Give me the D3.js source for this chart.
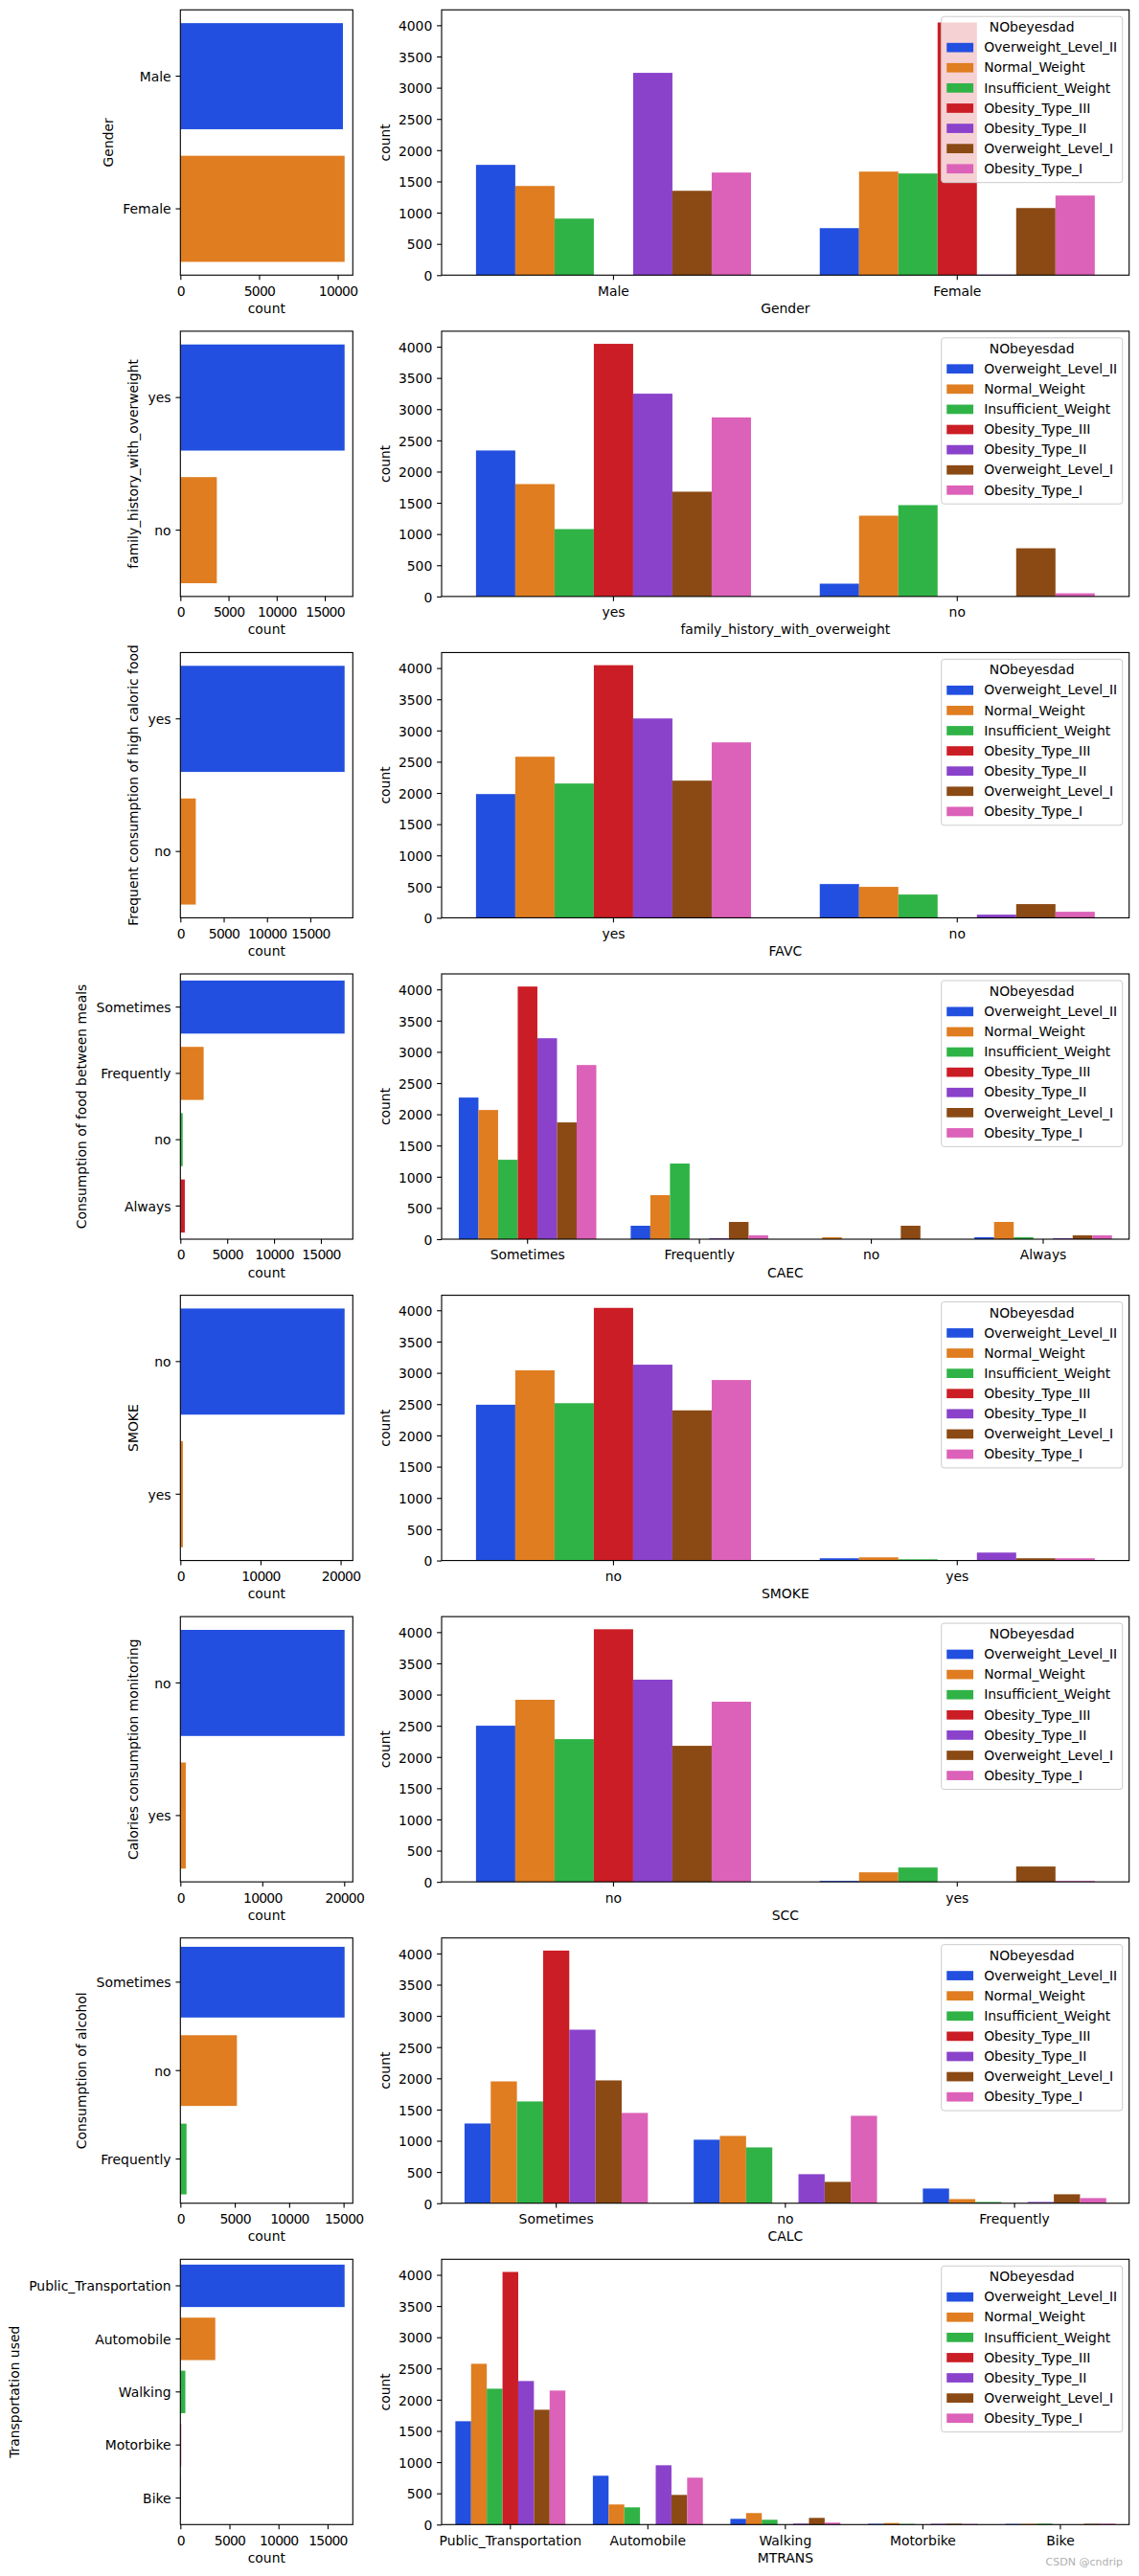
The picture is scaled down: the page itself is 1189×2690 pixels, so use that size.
<!DOCTYPE html>
<html>
<head>
<meta charset="utf-8">
<script src="https://cdn.jsdelivr.net/npm/d3@7"></script>
<style>
  body { margin: 0; background: #fff; }
  svg text { font-family: "DejaVu Sans", sans-serif; }
</style>
</head>
<body>
<svg id="chart" width="1189" height="2690"></svg>
<script>
// ---------------- DATA ----------------
const hueLevels = ["Overweight_Level_II", "Normal_Weight", "Insufficient_Weight",
  "Obesity_Type_III", "Obesity_Type_II", "Overweight_Level_I", "Obesity_Type_I"];
const palette = ["#224fdf", "#df7d20", "#30b346", "#cb1d25", "#8a42cb", "#8b4a14", "#dc61b8"];
const legendTitle = "NObeyesdad";
const countTicks = [0, 500, 1000, 1500, 2000, 2500, 3000, 3500, 4000];

const genderCats = ["Male", "Female"];
const genderCounts = [
  [1765, 1427, 905, 2, 3238, 1350, 1642],
  [752, 1657, 1627, 4044, 8, 1074, 1274]
];
const genderTicks = [0, 5000, 10000];

const familyCats = ["yes", "no"];
const familyCounts = [
  [2338, 1800, 1079, 4046, 3248, 1678, 2868],
  [205, 1294, 1463, 0, 0, 772, 51]
];
const familyTicks = [0, 5000, 10000, 15000];

const favcCats = ["yes", "no"];
const favcCounts = [
  [1982, 2580, 2151, 4046, 3193, 2197, 2810],
  [541, 496, 373, 0, 51, 220, 97]
];
const favcTicks = [0, 5000, 10000, 15000];

const caecCats = ["Sometimes", "Frequently", "no", "Always"];
const caecCounts = [
  [2268, 2069, 1272, 4046, 3218, 1870, 2789],
  [215, 705, 1211, 0, 15, 276, 61],
  [0, 31, 0, 0, 0, 215, 0],
  [31, 276, 31, 0, 15, 61, 61]
];
const caecTicks = [0, 5000, 10000, 15000];

const smokeCats = ["no", "yes"];
const smokeCounts = [
  [2490, 3040, 2515, 4038, 3130, 2400, 2885],
  [36, 51, 20, 8, 127, 36, 36]
];
const smokeTicks = [0, 10000, 20000];

const sccCats = ["no", "yes"];
const sccCounts = [
  [2501, 2916, 2286, 4046, 3238, 2179, 2885],
  [15, 153, 230, 0, 0, 246, 15]
];
const sccTicks = [0, 10000, 20000];

const calcCats = ["Sometimes", "no", "Frequently"];
const calcCounts = [
  [1277, 1951, 1630, 4046, 2779, 1967, 1446],
  [1017, 1078, 894, 0, 465, 342, 1400],
  [235, 66, 20, 0, 20, 143, 82]
];
const calcTicks = [0, 5000, 10000, 15000];

const mtransCats = ["Public_Transportation", "Automobile", "Walking", "Motorbike", "Bike"];
const mtransCounts = [
  [1655, 2575, 2176, 4046, 2299, 1839, 2146],
  [782, 322, 276, 0, 950, 475, 751],
  [92, 184, 77, 0, 15, 107, 31],
  [12, 25, 10, 0, 12, 14, 10],
  [10, 12, 14, 0, 0, 12, 14]
];
const mtransTicks = [0, 5000, 10000, 15000];

const rows = [
  { feature: "Gender", label: "Gender", cats: genderCats, counts: genderCounts, ticks: genderTicks },
  { feature: "family_history_with_overweight", label: "family_history_with_overweight", cats: familyCats, counts: familyCounts, ticks: familyTicks },
  { feature: "FAVC", label: "Frequent consumption of high caloric food", cats: favcCats, counts: favcCounts, ticks: favcTicks },
  { feature: "CAEC", label: "Consumption of food between meals", cats: caecCats, counts: caecCounts, ticks: caecTicks },
  { feature: "SMOKE", label: "SMOKE", cats: smokeCats, counts: smokeCounts, ticks: smokeTicks },
  { feature: "SCC", label: "Calories consumption monitoring", cats: sccCats, counts: sccCounts, ticks: sccTicks },
  { feature: "CALC", label: "Consumption of alcohol", cats: calcCats, counts: calcCounts, ticks: calcTicks },
  { feature: "MTRANS", label: "Transportation used", cats: mtransCats, counts: mtransCounts, ticks: mtransTicks }
];

// ---------------- LAYOUT ----------------
const FS = 13.9, TICK = 4.86, LW = 1.11;
const ROW0 = 10.3, ROWSTEP = 335.57, AXH = 277;
const LX0 = 188.3, LX1 = 368.3;
const RX0 = 461, RX1 = 1178.7;

const svg = d3.select("#chart");

function styleAxis(g) {
  g.attr("font-size", FS).attr("font-family", "DejaVu Sans");
  g.select(".domain").remove();
  g.selectAll(".tick line").attr("stroke", "#000").attr("stroke-width", LW);
  g.selectAll(".tick text").attr("fill", "#000");
}
function maxTextLen(g) {
  let m = 0;
  g.selectAll(".tick text").each(function () { m = Math.max(m, this.getComputedTextLength()); });
  return m;
}
function frame(x0, x1, top, bottom) {
  svg.append("rect").attr("x", x0).attr("y", top).attr("width", x1 - x0).attr("height", bottom - top)
    .attr("fill", "none").attr("stroke", "#000").attr("stroke-width", LW);
}

function drawLeft(r, top, bottom) {
  const totals = r.counts.map(c => d3.sum(c));
  const x = d3.scaleLinear().domain([0, d3.max(totals) * 1.05]).range([LX0, LX1]);
  const y = d3.scaleBand().domain(r.cats).range([top, bottom]).paddingInner(0.2).paddingOuter(0.1);
  svg.append("g").selectAll("rect").data(r.cats).join("rect")
    .attr("x", x(0)).attr("y", d => y(d))
    .attr("width", (d, j) => x(totals[j]) - x(0)).attr("height", y.bandwidth())
    .attr("fill", (d, j) => palette[j]);
  frame(LX0, LX1, top, bottom);
  const gx = svg.append("g").attr("transform", `translate(0,${bottom})`)
    .call(d3.axisBottom(x).tickValues(r.ticks).tickFormat(d3.format("d")).tickSize(TICK).tickPadding(21.4 - TICK - 0.71 * FS));
  styleAxis(gx);
  gx.selectAll(".tick text").style("letter-spacing", "-0.75px");
  const gy = svg.append("g").attr("transform", `translate(${LX0},0)`)
    .call(d3.axisLeft(y).tickSize(TICK).tickPadding(TICK));
  styleAxis(gy);
  gy.selectAll(".tick text").attr("dy", "0.38em");
  const w = maxTextLen(gy);
  svg.append("text").attr("x", (LX0 + LX1) / 2).attr("y", bottom + 39.5)
    .attr("text-anchor", "middle").attr("font-size", FS).text("count");
  const lx = LX0 - 2 * TICK - w - 10.5;
  svg.append("text").attr("transform", `translate(${lx},${(top + bottom) / 2}) rotate(-90)`)
    .attr("text-anchor", "middle").attr("font-size", FS).text(r.label);
}

function drawRight(r, top, bottom) {
  const x = d3.scaleBand().domain(r.cats).range([RX0, RX1]).paddingInner(0.2).paddingOuter(0.1);
  const hx = d3.scaleBand().domain(hueLevels).range([0, x.bandwidth()]);
  const maxV = d3.max(r.counts, c => d3.max(c));
  const y = d3.scaleLinear().domain([0, maxV * 1.05]).range([bottom, top]);
  const flat = [];
  r.cats.forEach((c, ci) => hueLevels.forEach((h, hi) => {
    if (r.counts[ci][hi] > 0) flat.push({ c, h, hi, v: r.counts[ci][hi] });
  }));
  svg.append("g").selectAll("rect").data(flat).join("rect")
    .attr("x", d => x(d.c) + hx(d.h)).attr("width", hx.bandwidth())
    .attr("y", d => y(d.v)).attr("height", d => y(0) - y(d.v))
    .attr("fill", d => palette[d.hi]);
  frame(RX0, RX1, top, bottom);
  const gx = svg.append("g").attr("transform", `translate(0,${bottom})`)
    .call(d3.axisBottom(x).tickSize(TICK).tickPadding(21.4 - TICK - 0.71 * FS));
  styleAxis(gx);
  const gy = svg.append("g").attr("transform", `translate(${RX0},0)`)
    .call(d3.axisLeft(y).tickValues(countTicks).tickFormat(d3.format("d")).tickSize(TICK).tickPadding(TICK));
  styleAxis(gy);
  gy.selectAll(".tick text").attr("dy", "0.38em");
  const w = maxTextLen(gy);
  svg.append("text").attr("x", (RX0 + RX1) / 2).attr("y", bottom + 39.5)
    .attr("text-anchor", "middle").attr("font-size", FS).text(r.feature);
  const lx = RX0 - 2 * TICK - w - 8.5;
  svg.append("text").attr("transform", `translate(${lx},${(top + bottom) / 2}) rotate(-90)`)
    .attr("text-anchor", "middle").attr("font-size", FS).text("count");

  // legend
  const lg = svg.append("g");
  const bg = lg.append("rect");
  const labels = lg.selectAll("text.lbl").data(hueLevels).join("text").attr("class", "lbl")
    .attr("font-size", FS).text(d => d);
  let tw = 0;
  labels.each(function () { tw = Math.max(tw, this.getComputedTextLength()); });
  const pad = 0.4 * FS, hl = 2 * FS, htp = 0.8 * FS;
  const legW = pad + hl + htp + tw + pad;
  const legH = 173.4;
  const legX = RX1 - 0.5 * FS - legW, legY = top + 0.5 * FS;
  bg.attr("x", legX).attr("y", legY).attr("width", legW).attr("height", legH)
    .attr("rx", 2.8).attr("fill", "#fff").attr("fill-opacity", 0.8)
    .attr("stroke", "#cccccc").attr("stroke-width", 1);
  lg.append("text").attr("x", legX + legW / 2).attr("y", legY + 16.1)
    .attr("text-anchor", "middle").attr("font-size", FS).text(legendTitle);
  lg.selectAll("rect.sw").data(hueLevels).join("rect").attr("class", "sw")
    .attr("x", legX + pad).attr("width", hl)
    .attr("y", (d, k) => legY + 32.4 + k * 21.1 - 0.35 * FS).attr("height", 0.7 * FS)
    .attr("fill", (d, k) => palette[k]);
  labels.attr("x", legX + pad + hl + htp).attr("y", (d, k) => legY + 32.4 + k * 21.1 + 4.7);
}

rows.forEach((r, i) => {
  const top = ROW0 + i * ROWSTEP, bottom = top + AXH;
  drawLeft(r, top, bottom);
  drawRight(r, top, bottom);
});

svg.append("text").attr("x", 1172).attr("y", 2679).attr("text-anchor", "end")
  .attr("font-size", 11).attr("fill", "#b0b0b0").text("CSDN @cndrip");
</script>
</body>
</html>
